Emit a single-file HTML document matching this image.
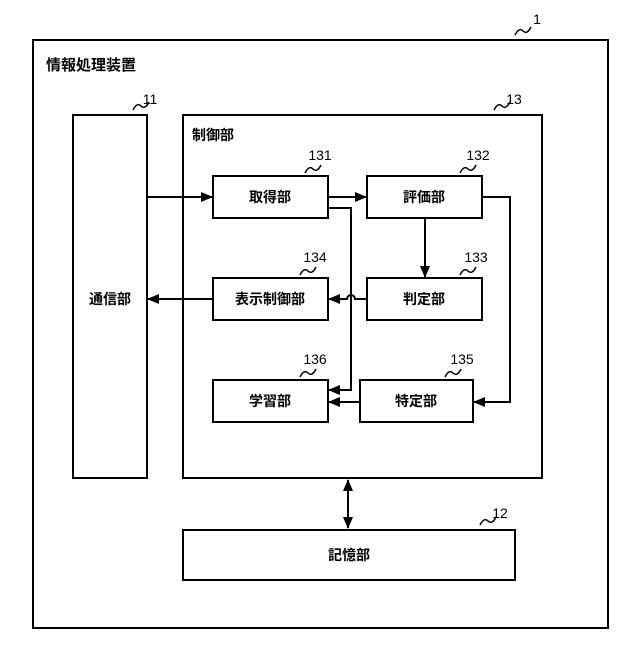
<!DOCTYPE html><html><head><meta charset="utf-8"><style>body{margin:0;background:#fff}</style></head><body>
<svg width="640" height="640" viewBox="0 0 640 640" xmlns="http://www.w3.org/2000/svg" font-family="'Liberation Sans','Noto Sans CJK JP',sans-serif">
<defs><marker id="a" markerWidth="12" markerHeight="10" refX="11" refY="5" orient="auto" markerUnits="userSpaceOnUse"><path d="M0,0L12,5L0,10z" fill="#000"/></marker>
<marker id="b" markerWidth="12" markerHeight="10" refX="11" refY="5" orient="auto-start-reverse" markerUnits="userSpaceOnUse"><path d="M0,0L12,5L0,10z" fill="#000"/></marker></defs>
<g fill="none" stroke="#000" stroke-width="2">
<rect x="33" y="40" width="575" height="588"/>
<rect x="73" y="115" width="74" height="363"/>
<rect x="183" y="115" width="359" height="363"/>
<rect x="183" y="530" width="332" height="50"/>
<rect x="213" y="176" width="115" height="42"/>
<rect x="367" y="176" width="115" height="42"/>
<rect x="213" y="278" width="115" height="42"/>
<rect x="367" y="278" width="115" height="42"/>
<rect x="213" y="380" width="115" height="42"/>
<rect x="360" y="380" width="113" height="42"/>
<path d="M147 197H212" marker-end="url(#a)"/>
<path d="M328 197H366" marker-end="url(#a)"/>
<path d="M328 208H351V390H329" marker-end="url(#a)"/>
<path d="M425 218V277" marker-end="url(#a)"/>
<path d="M367 299H355A4 4 0 0 0 347 299H329" marker-end="url(#a)"/>
<path d="M213 299H148" marker-end="url(#a)"/>
<path d="M482 197H510V402H474" marker-end="url(#a)"/>
<path d="M360 402H329" marker-end="url(#a)"/>
<path d="M348 480V528" marker-start="url(#b)" marker-end="url(#a)"/>
<g stroke-width="1.5"><path d="M515 35q4-8 8-4t8-4"/><path d="M133 110q4-8 8-4t8-4"/><path d="M494 110q4-8 8-4t8-4"/><path d="M480 525q4-8 8-4t8-4"/>
<path d="M305 173q4-8 8-4t8-4"/><path d="M460 173q4-8 8-4t8-4"/><path d="M300 275q4-8 8-4t8-4"/><path d="M460 275q4-8 8-4t8-4"/><path d="M300 377q4-8 8-4t8-4"/><path d="M445 377q4-8 8-4t8-4"/></g>
</g>
<g font-size="14" font-weight="bold" text-anchor="middle">
<text x="270" y="202">取得部</text><text x="424" y="202">評価部</text><text x="270" y="304">表示制御部</text><text x="424" y="304">判定部</text><text x="270" y="406">学習部</text><text x="416" y="406">特定部</text><text x="110" y="304">通信部</text><text x="349" y="560">記憶部</text>
<text x="46" y="70" text-anchor="start" font-size="15">情報処理装置</text><text x="192" y="140" text-anchor="start">制御部</text></g>
<g font-size="14" text-anchor="middle">
<text x="537" y="24">1</text><text x="150" y="104">11</text><text x="514" y="104">13</text><text x="500" y="518">12</text>
<text x="320" y="160">131</text><text x="478" y="160">132</text><text x="315" y="262">134</text><text x="476" y="262">133</text><text x="315" y="364">136</text><text x="462" y="364">135</text></g>
</svg></body></html>
